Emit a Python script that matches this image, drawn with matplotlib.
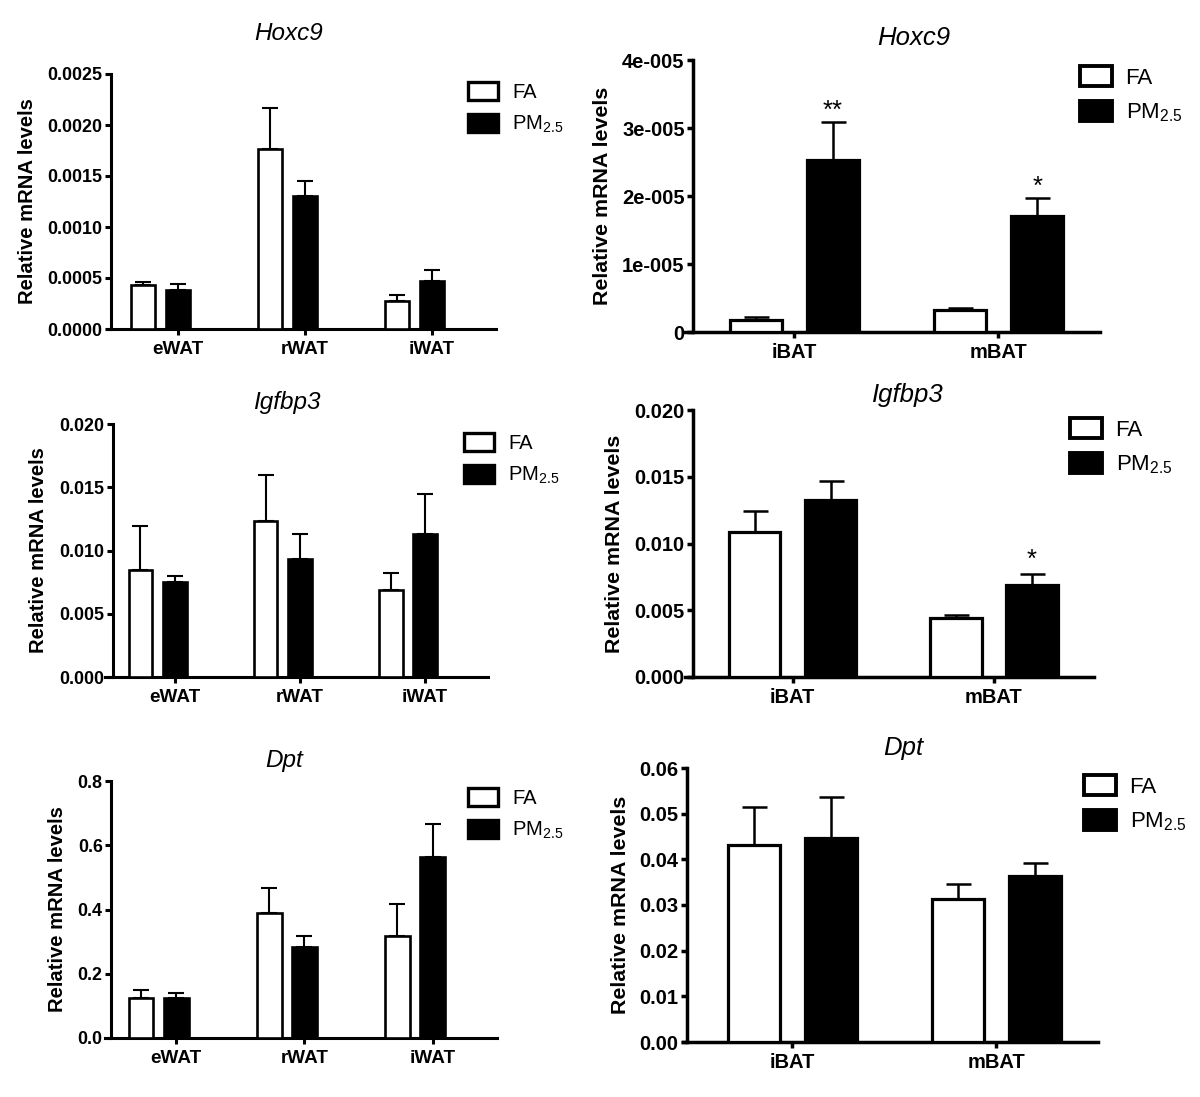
import numpy as np
import matplotlib
matplotlib.use("Agg")
import matplotlib.pyplot as plt
from matplotlib.patches import Patch

plt.rcParams['font.family'] = ['Liberation Sans', 'DejaVu Sans']
plt.rcParams['mathtext.fontset'] = 'custom'
plt.rcParams['mathtext.rm'] = 'Liberation Sans'
plt.rcParams['mathtext.it'] = 'Liberation Sans:italic'
plt.rcParams['mathtext.bf'] = 'Liberation Sans:bold'

# ---- values (mean and upper SEM) ----
wat = ['eWAT', 'rWAT', 'iWAT']
bat = ['iBAT', 'mBAT']

hoxc9_wat_fa = [0.000434, 0.00176, 0.00027]
hoxc9_wat_fa_sem = [0.000023, 0.00041, 0.00006]
hoxc9_wat_pm = [0.000378, 0.00130, 0.000467]
hoxc9_wat_pm_sem = [0.000063, 0.00015, 0.000114]

hoxc9_bat_fa = [1.76e-6, 3.2e-6]
hoxc9_bat_fa_sem = [0.5e-6, 0.4e-6]
hoxc9_bat_pm = [2.53e-5, 1.71e-5]
hoxc9_bat_pm_sem = [0.56e-5, 0.26e-5]
hoxc9_bat_stars = ['**', '*']

igfbp3_wat_fa = [0.00842, 0.01237, 0.0069]
igfbp3_wat_fa_sem = [0.00348, 0.00363, 0.00131]
igfbp3_wat_pm = [0.0075, 0.00935, 0.01132]
igfbp3_wat_pm_sem = [0.0005, 0.00192, 0.00313]

igfbp3_bat_fa = [0.01089, 0.00441]
igfbp3_bat_fa_sem = [0.00155, 0.0002]
igfbp3_bat_pm = [0.01327, 0.00691]
igfbp3_bat_pm_sem = [0.00142, 0.00082]
igfbp3_bat_stars = ['', '*']

dpt_wat_fa = [0.124, 0.388, 0.319]
dpt_wat_fa_sem = [0.024, 0.078, 0.098]
dpt_wat_pm = [0.126, 0.283, 0.562]
dpt_wat_pm_sem = [0.014, 0.033, 0.103]

dpt_bat_fa = [0.0432, 0.0313]
dpt_bat_fa_sem = [0.0083, 0.0033]
dpt_bat_pm = [0.0446, 0.0364]
dpt_bat_pm_sem = [0.0091, 0.0029]

# y tick values and their labels (as printed by GraphPad)
hoxc9_wat_ticks = [0, 0.0005, 0.0010, 0.0015, 0.0020, 0.0025]
hoxc9_wat_ticklabels = ['0.0000', '0.0005', '0.0010', '0.0015', '0.0020', '0.0025']
hoxc9_bat_ticks = [0, 1e-5, 2e-5, 3e-5, 4e-5]
hoxc9_bat_ticklabels = ['0', '1e-005', '2e-005', '3e-005', '4e-005']
igfbp3_ticks = [0, 0.005, 0.010, 0.015, 0.020]
igfbp3_ticklabels = ['0.000', '0.005', '0.010', '0.015', '0.020']
dpt_wat_ticks = [0, 0.2, 0.4, 0.6, 0.8]
dpt_wat_ticklabels = ['0.0', '0.2', '0.4', '0.6', '0.8']
dpt_bat_ticks = [0, 0.01, 0.02, 0.03, 0.04, 0.05, 0.06]
dpt_bat_ticklabels = ['0.00', '0.01', '0.02', '0.03', '0.04', '0.05', '0.06']

W, H = 1200, 1097
fig = plt.figure(figsize=(W / 100, H / 100), dpi=100)

# styles for the two columns (right column is drawn a bit larger)
left_style = dict(tick=12.9, xtick=13.6, ylab=14.6, title=17.5, leg=14.5, lw=2.2, edge=1.9,
                  elw=1.5, cap=6, width=0.19, off=0.137, xlim=(-0.42, 2.64), xshift=0.137,
                  hl=1.5, hh=1.0, htp=0.7, ls=0.58, xpad=4.5)
right_style = dict(tick=14.5, xtick=14.5, ylab=15.4, title=18.5, leg=16, lw=2.5, edge=2.3,
                   elw=1.8, cap=9, width=0.255, off=0.189, xlim=(-0.535, 1.497), xshift=0.0,
                   hl=1.45, hh=1.0, htp=0.6, ls=0.55, xpad=4)


def panel(box, yaxis_px, ylab_px, title_xy, leg_xy, title, cats, fa, fa_err, pm, pm_err,
          ticks, ticklabels, st, stars=None, star_pad=3):
    l, r, t, b = box
    ax = fig.add_axes([l / W, 1 - b / H, (r - l) / W, (b - t) / H])
    x = np.arange(len(cats))
    n = len(cats)

    ax.bar(x - st['off'], fa, st['width'], color='white', edgecolor='black',
           linewidth=st['edge'], zorder=3)
    ax.bar(x + st['off'], pm, st['width'], color='black', edgecolor='black',
           linewidth=st['edge'], zorder=3)
    # GraphPad style: only the upper half of the error bar
    ax.errorbar(x - st['off'], fa, yerr=[np.zeros(n), fa_err], fmt='none', ecolor='black',
                elinewidth=st['elw'], capsize=st['cap'], capthick=st['elw'], zorder=2)
    ax.errorbar(x + st['off'], pm, yerr=[np.zeros(n), pm_err], fmt='none', ecolor='black',
                elinewidth=st['elw'], capsize=st['cap'], capthick=st['elw'], zorder=2)

    if stars:
        for xi, v, e, s in zip(x, pm, pm_err, stars):
            if s:
                ax.annotate(s, xy=(xi + st['off'], v + e), xytext=(0, star_pad),
                            textcoords='offset points', ha='center', va='baseline',
                            fontsize=st['title'])

    ax.set_xlim(st['xlim'])
    ax.set_ylim(ticks[0], ticks[-1])
    ax.set_yticks(ticks, ticklabels)
    ax.set_xticks(x + st['xshift'], cats)

    for side in ['top', 'right']:
        ax.spines[side].set_visible(False)
    for side in ['left', 'bottom']:
        ax.spines[side].set_linewidth(st['lw'])
    ax.spines['left'].set_position(('axes', (yaxis_px - l) / (r - l)))
    ax.tick_params(axis='y', length=4, width=st['lw'], pad=2, labelsize=st['tick'])
    ax.tick_params(axis='x', length=4, width=st['lw'], pad=st['xpad'], labelsize=st['xtick'])
    for lab in ax.get_xticklabels() + ax.get_yticklabels():
        lab.set_fontweight('bold')

    ax.set_ylabel('Relative mRNA levels', fontsize=st['ylab'], fontweight='bold')
    ax.yaxis.set_label_coords((ylab_px + 10) / W, 1 - ((t + b) / 2) / H,
                              transform=fig.transFigure)

    fig.text(title_xy[0] / W, 1 - title_xy[1] / H, title, ha='center', va='center',
             style='italic', fontsize=st['title'])

    handles = [Patch(facecolor='white', edgecolor='black', linewidth=st['edge'] + 0.5),
               Patch(facecolor='black', edgecolor='black', linewidth=st['edge'] + 0.5)]
    ax.legend(handles, ['FA', 'PM$_{2.5}$'], loc='upper left',
              bbox_to_anchor=(leg_xy[0] / W, 1 - leg_xy[1] / H),
              bbox_transform=fig.transFigure, frameon=False, fontsize=st['leg'],
              borderpad=0, borderaxespad=0, handlelength=st['hl'], handleheight=st['hh'],
              handletextpad=st['htp'], labelspacing=st['ls'])
    return ax


# left column: white adipose depots
panel((107, 496, 74, 329), 111, 27, (289, 33), (468, 82), 'Hoxc9', wat,
      hoxc9_wat_fa, hoxc9_wat_fa_sem, hoxc9_wat_pm, hoxc9_wat_pm_sem,
      hoxc9_wat_ticks, hoxc9_wat_ticklabels, left_style)
panel((105, 488, 424, 677), 113, 38, (287, 403), (464, 433), 'Igfbp3', wat,
      igfbp3_wat_fa, igfbp3_wat_fa_sem, igfbp3_wat_pm, igfbp3_wat_pm_sem,
      igfbp3_ticks, igfbp3_ticklabels, left_style)
panel((105, 497, 781, 1038), 111, 57, (284, 760), (468, 788), 'Dpt', wat,
      dpt_wat_fa, dpt_wat_fa_sem, dpt_wat_pm, dpt_wat_pm_sem,
      dpt_wat_ticks, dpt_wat_ticklabels, left_style)

# right column: brown adipose depots
panel((685, 1100, 60, 332), 693, 602, (914, 38), (1080, 66), 'Hoxc9', bat,
      hoxc9_bat_fa, hoxc9_bat_fa_sem, hoxc9_bat_pm, hoxc9_bat_pm_sem,
      hoxc9_bat_ticks, hoxc9_bat_ticklabels, right_style, stars=hoxc9_bat_stars, star_pad=3)
panel((685, 1094, 410, 677), 693, 614, (908, 395), (1070, 418), 'Igfbp3', bat,
      igfbp3_bat_fa, igfbp3_bat_fa_sem, igfbp3_bat_pm, igfbp3_bat_pm_sem,
      igfbp3_ticks, igfbp3_ticklabels, right_style, stars=igfbp3_bat_stars, star_pad=5)
panel((683, 1098, 768, 1042), 687, 620, (903, 748), (1084, 775), 'Dpt', bat,
      dpt_bat_fa, dpt_bat_fa_sem, dpt_bat_pm, dpt_bat_pm_sem,
      dpt_bat_ticks, dpt_bat_ticklabels, right_style)

fig.savefig('out.png', dpi=100)
